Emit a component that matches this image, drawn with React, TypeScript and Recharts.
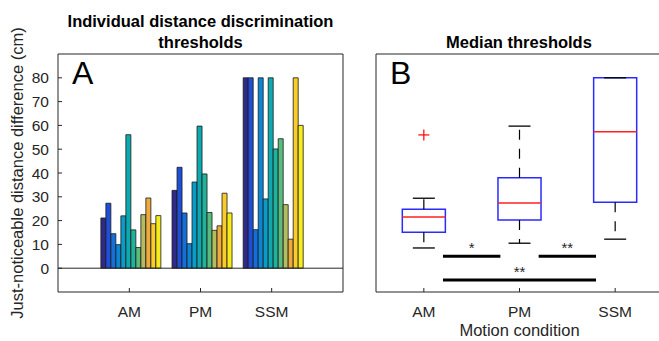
import React from 'react';
import {
  BarChart,
  Bar,
  XAxis,
  YAxis,
  ReferenceLine,
  ComposedChart,
  ReferenceArea,
  Scatter,
} from 'recharts';

// ---------- data ----------
const categories = ['AM', 'PM', 'SSM'];
const subjectIds = ['s1', 's2', 's3', 's4', 's5', 's6', 's7', 's8', 's9', 's10', 's11', 's12'];
const amThresholds = [21.1, 27.3, 14.5, 9.9, 22.0, 56.1, 16.1, 8.7, 22.5, 29.5, 18.7, 22.1];
const pmThresholds = [32.7, 42.4, 23.2, 10.3, 36.2, 59.7, 39.6, 23.4, 15.9, 17.8, 31.5, 23.2];
const ssmThresholds = [80, 80, 16.2, 80, 29.1, 80, 50.1, 54.4, 26.7, 12.2, 80, 60];
const subjectColors = [
  '#2F2A88', '#1E4FD6', '#146FDB', '#0C86D4', '#0A9CC8', '#0CAAB0',
  '#1EB39A', '#5ABB7E', '#B3BC5E', '#EEAA3C', '#F8CC2A', '#F6EC1A',
];
const yTicks = [0, 10, 20, 30, 40, 50, 60, 70, 80];

// box plot statistics (panel B), per condition
const boxCenters = [1, 2, 3];
const boxLowerWhisker = [8.5, 10.5, 12.2];
const boxQ1 = [15.1, 20.3, 27.7];
const boxMedian = [21.5, 27.4, 57.3];
const boxQ3 = [24.8, 38.0, 80];
const boxUpperWhisker = [29.4, 59.7, 80];
const outlierPoints = [{ x: 1, y: 56 }];
const sigBarStart = [1.2, 2.2, 1.2];
const sigBarEnd = [1.8, 2.8, 2.8];
const sigBarLevel = [5, 5, -5];
const sigMarkX = [1.5, 2.5, 2];
const sigMarkY = [10, 10, 0];
const sigMarkText = ['*', '**', '**'];

const barData = categories.map((cat, ci) => {
  const vals = [amThresholds, pmThresholds, ssmThresholds][ci];
  const row: any = { cat };
  subjectIds.forEach((id, i) => {
    row[id] = vals[i];
  });
  return row;
});

const sigMarkData = sigMarkX.map((x, i) => ({ x, y: sigMarkY[i], label: sigMarkText[i] }));

const FONT = '"Liberation Sans", Arial, Helvetica, sans-serif';
const AXIS = '#262626';
const TICK_FS = 15.5;
const LABEL_FS = 16.5;

const PlusShape = (props: any) => {
  const { cx, cy } = props;
  if (cx == null || cy == null) return null;
  const s = 5.5;
  return (
    <g>
      <line x1={cx - s} x2={cx + s} y1={cy} y2={cy} stroke="#FF0000" strokeWidth={1.2} />
      <line x1={cx} x2={cx} y1={cy - s} y2={cy + s} stroke="#FF0000" strokeWidth={1.2} />
    </g>
  );
};

const StarShape = (props: any) => {
  const { cx, cy, payload } = props;
  if (cx == null || cy == null) return null;
  return (
    <text x={cx} y={cy + 8.6} textAnchor="middle" fontSize={15} fill={AXIS} fontFamily={FONT}>
      {payload.label}
    </text>
  );
};

export default function App() {
  const boxHalf = 0.225;
  const capHalf = 0.115;
  return (
    <div
      style={{
        position: 'absolute',
        left: 0,
        top: 0,
        width: 659,
        height: 341,
        overflow: 'hidden',
        background: '#fff',
        fontFamily: FONT,
      }}
    >
      {/* Panel A */}
      <div style={{ position: 'absolute', left: 0, top: 0 }}>
        <BarChart
          width={346}
          height={341}
          data={barData}
          margin={{ top: 53, right: 2, bottom: 0, left: 0 }}
          barGap={0}
          barCategoryGap="10%"
        >
          <XAxis
            dataKey="cat"
            padding={{ left: 35.75, right: 35.75 }}
            height={49}
            tickSize={-4}
            tickMargin={17.5}
            interval={0}
            stroke={AXIS}
            tick={{ fill: AXIS, fontSize: TICK_FS, fontFamily: FONT }}
          />
          <XAxis
            xAxisId="top"
            orientation="top"
            dataKey="cat"
            padding={{ left: 35.75, right: 35.75 }}
            height={1}
            tickSize={-4}
            interval={0}
            tick={false}
            stroke={AXIS}
          />
          <YAxis
            type="number"
            domain={[-10, 90]}
            ticks={yTicks}
            interval={0}
            width={58}
            tickSize={-4}
            tickMargin={13}
            stroke={AXIS}
            allowDataOverflow
            tick={{ fill: AXIS, fontSize: TICK_FS, fontFamily: FONT }}
          />
          <YAxis
            yAxisId="right"
            orientation="right"
            type="number"
            domain={[-10, 90]}
            ticks={yTicks}
            interval={0}
            width={1}
            tickSize={-4}
            tick={false}
            stroke={AXIS}
            allowDataOverflow
          />
          {subjectIds.map((id, i) => (
            <Bar
              key={id}
              dataKey={id}
              fill={subjectColors[i]}
              stroke="#1a1a1a"
              strokeWidth={0.8}
              isAnimationActive={false}
            />
          ))}
          <ReferenceLine y={0} stroke={AXIS} strokeWidth={1} />
        </BarChart>
      </div>

      {/* Panel B */}
      <div style={{ position: 'absolute', left: 346, top: 0 }}>
        <ComposedChart width={318} height={341} margin={{ top: 53, right: 0, bottom: 0, left: 0 }}>
          <XAxis
            type="number"
            dataKey="x"
            domain={[0.5, 3.5]}
            ticks={[1, 2, 3]}
            interval={0}
            allowDataOverflow
            tickFormatter={(v: number) => categories[v - 1]}
            height={49}
            tickSize={-4}
            tickMargin={17.5}
            stroke={AXIS}
            tick={{ fill: AXIS, fontSize: TICK_FS, fontFamily: FONT }}
            label={{
              value: 'Motion condition',
              position: 'insideBottom',
              offset: 5,
              fontSize: LABEL_FS,
              fill: AXIS,
              fontFamily: FONT,
            }}
          />
          <XAxis
            xAxisId="top"
            orientation="top"
            type="number"
            domain={[0.5, 3.5]}
            ticks={[1, 2, 3]}
            interval={0}
            allowDataOverflow
            height={1}
            tickSize={-4}
            tick={false}
            stroke={AXIS}
          />
          <YAxis
            type="number"
            domain={[-10, 90]}
            ticks={yTicks}
            interval={0}
            width={30}
            tickSize={-4}
            tick={false}
            stroke={AXIS}
            allowDataOverflow
          />
          <YAxis
            yAxisId="right"
            orientation="right"
            type="number"
            domain={[-10, 90]}
            ticks={yTicks}
            interval={0}
            width={1}
            tickSize={-4}
            tick={false}
            stroke={AXIS}
            allowDataOverflow
          />

          {/* whiskers */}
          {boxCenters.map((c, i) =>
            boxUpperWhisker[i] > boxQ3[i] ? (
              <ReferenceLine
                key={'uw' + i}
                segment={[{ x: c, y: boxQ3[i] }, { x: c, y: boxUpperWhisker[i] }]}
                stroke="#000"
                strokeWidth={1.2}
                strokeDasharray="10 9"
              />
            ) : null
          )}
          {boxCenters.map((c, i) => (
            <ReferenceLine
              key={'lw' + i}
              segment={[{ x: c, y: boxQ1[i] }, { x: c, y: boxLowerWhisker[i] }]}
              stroke="#000"
              strokeWidth={1.2}
              strokeDasharray="10 9"
            />
          ))}
          {boxCenters.map((c, i) => (
            <ReferenceLine
              key={'uc' + i}
              segment={[{ x: c - capHalf, y: boxUpperWhisker[i] }, { x: c + capHalf, y: boxUpperWhisker[i] }]}
              stroke="#000"
              strokeWidth={1.3}
            />
          ))}
          {boxCenters.map((c, i) => (
            <ReferenceLine
              key={'lc' + i}
              segment={[{ x: c - capHalf, y: boxLowerWhisker[i] }, { x: c + capHalf, y: boxLowerWhisker[i] }]}
              stroke="#000"
              strokeWidth={1.3}
            />
          ))}
          {/* boxes */}
          {boxCenters.map((c, i) => (
            <ReferenceArea
              key={'box' + i}
              x1={c - boxHalf}
              x2={c + boxHalf}
              y1={boxQ1[i]}
              y2={boxQ3[i]}
              fill="none"
              fillOpacity={0}
              stroke="#2B2BFF"
              strokeWidth={1.5}
            />
          ))}
          {/* medians */}
          {boxCenters.map((c, i) => (
            <ReferenceLine
              key={'med' + i}
              segment={[{ x: c - boxHalf, y: boxMedian[i] }, { x: c + boxHalf, y: boxMedian[i] }]}
              stroke="#FF2020"
              strokeWidth={1.5}
            />
          ))}
          {/* significance bars */}
          {sigBarLevel.map((lvl, i) => (
            <ReferenceLine
              key={'sig' + i}
              segment={[{ x: sigBarStart[i], y: lvl }, { x: sigBarEnd[i], y: lvl }]}
              stroke="#000"
              strokeWidth={3}
            />
          ))}
          <Scatter data={outlierPoints} dataKey="y" shape={PlusShape} isAnimationActive={false} />
          <Scatter data={sigMarkData} dataKey="y" shape={StarShape} isAnimationActive={false} />
        </ComposedChart>
      </div>

      {/* titles, panel letters, y label */}
      <svg
        width={659}
        height={341}
        style={{ position: 'absolute', left: 0, top: 0, pointerEvents: 'none' }}
        fontFamily={FONT}
      >
        <text x={200.5} y={27} textAnchor="middle" fontSize={LABEL_FS} fontWeight="bold" fill="#000">
          Individual distance discrimination
        </text>
        <text x={200.5} y={48} textAnchor="middle" fontSize={LABEL_FS} fontWeight="bold" fill="#000">
          thresholds
        </text>
        <text x={519} y={48} textAnchor="middle" fontSize={LABEL_FS} fontWeight="bold" fill="#000">
          Median thresholds
        </text>
        <text x={72} y={84} fontSize={32} fill="#000">
          A
        </text>
        <text x={390} y={84} fontSize={32} fill="#000">
          B
        </text>
        <text
          x={23}
          y={173}
          textAnchor="middle"
          fontSize={LABEL_FS}
          fill={AXIS}
          transform="rotate(-90, 23, 173)"
        >
          Just-noticeable distance difference (cm)
        </text>
      </svg>
    </div>
  );
}
